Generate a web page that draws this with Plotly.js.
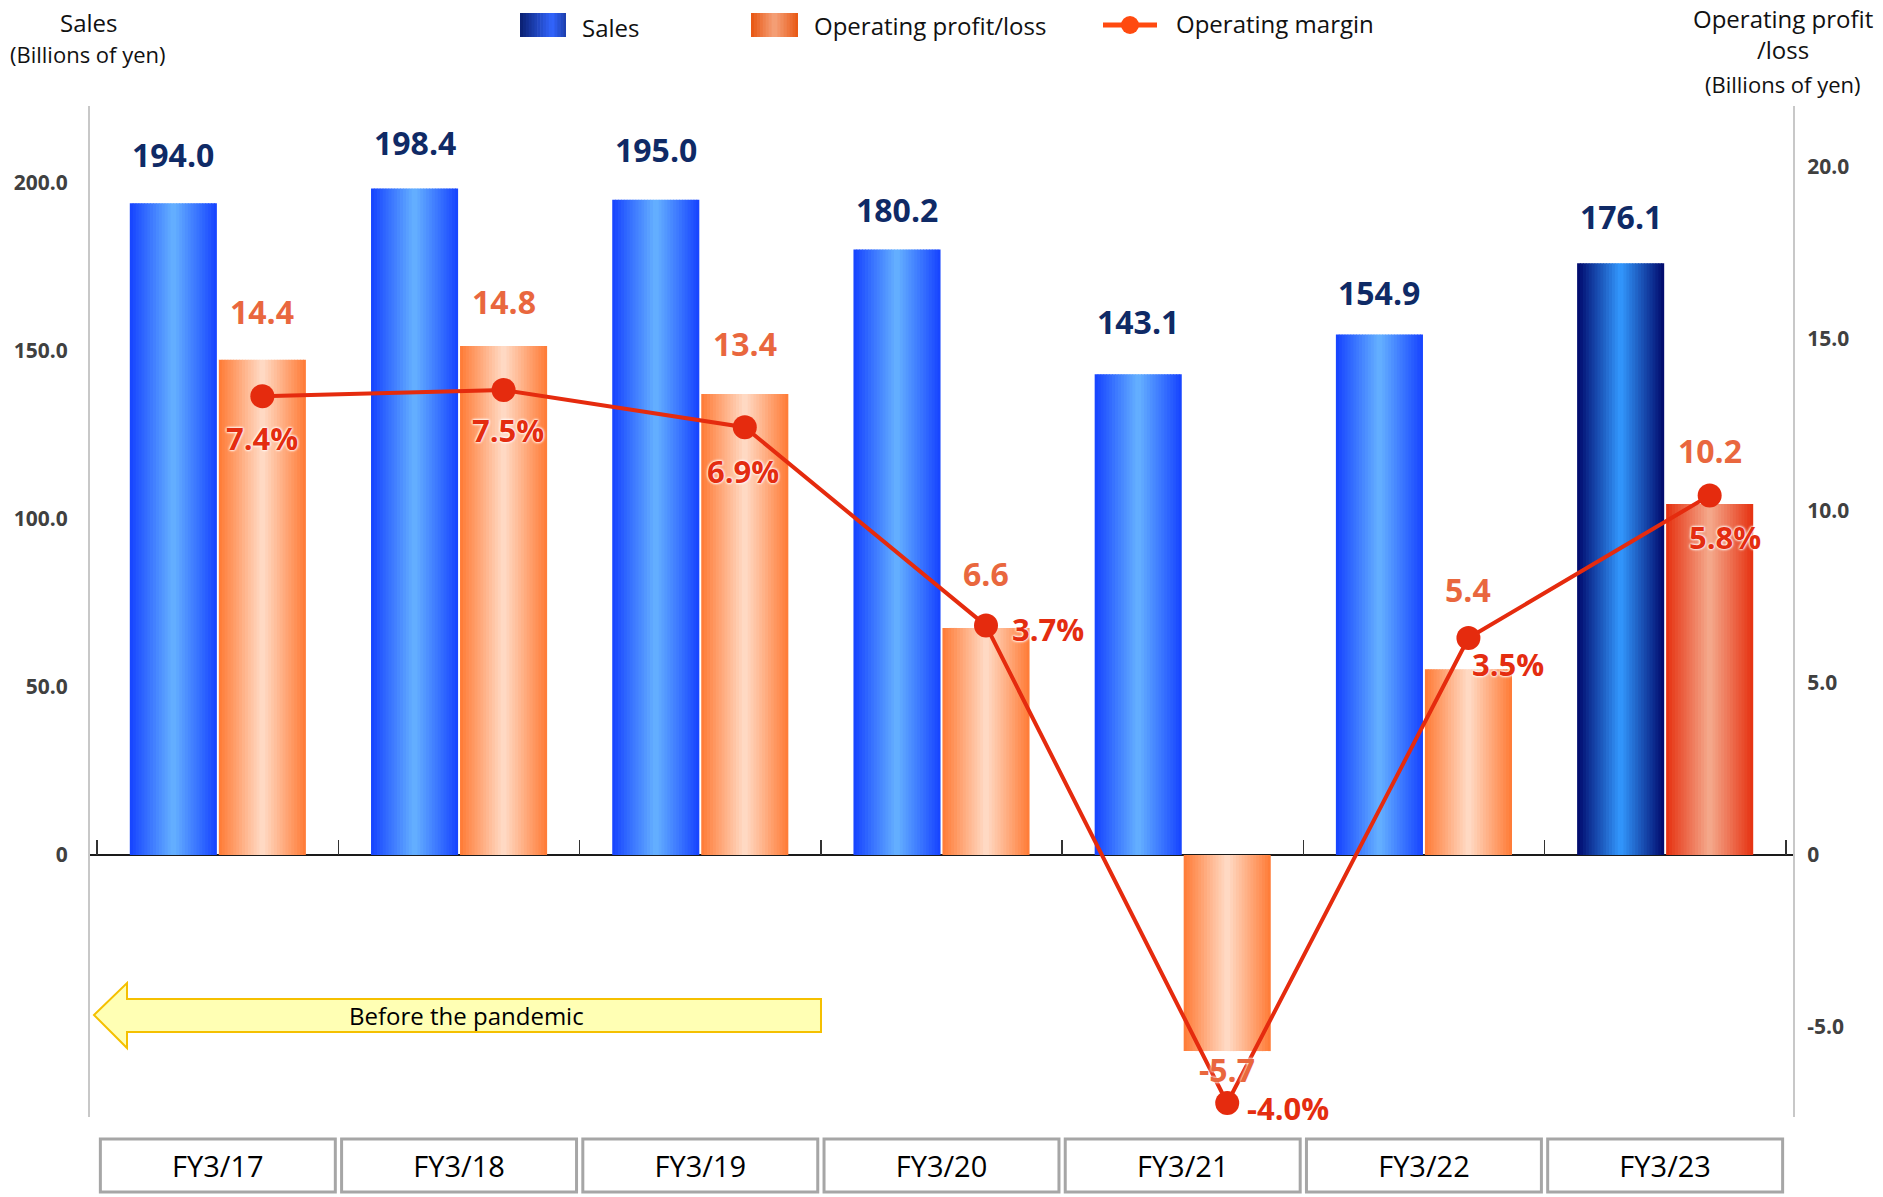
<!DOCTYPE html>
<html>
<head>
<meta charset="utf-8">
<script src="https://cdn.plot.ly/plotly-3.0.1.min.js"></script>
<style>
  html, body { margin: 0; padding: 0; background: #ffffff; }
  #chart { width: 1883px; height: 1197px; }
</style>
</head>
<body>
<div id="chart"></div>
<script>
// ---------------- DATA ----------------
const categories = ['FY3/17', 'FY3/18', 'FY3/19', 'FY3/20', 'FY3/21', 'FY3/22', 'FY3/23'];
const sales = [194.0, 198.4, 195.0, 180.2, 143.1, 154.9, 176.1];            // Billions of yen
const opProfit = [14.4, 14.8, 13.4, 6.6, -5.7, 5.4, 10.2];                  // Billions of yen
const opMargin = [7.4, 7.5, 6.9, 3.7, -4.0, 3.5, 5.8];                      // %
const salesTickVals = [0, 50, 100, 150, 200];
const salesTickText = ['0', '50.0', '100.0', '150.0', '200.0'];
const opTickVals = [-5, 0, 5, 10, 15, 20];
const opTickText = ['-5.0', '0', '5.0', '10.0', '15.0', '20.0'];

// ---------------- GEOMETRY / STYLE ----------------
const W = 1883, H = 1197;
const L = 90, R = 1793, T = 106, B = 1117, Z = 855;   // plot box and zero line (px)
const salesPx = 3.36, opPx = 34.4, marginPx = 62;     // px per unit
const salesRange = [-(B - Z) / salesPx, (Z - T) / salesPx];
const opRange = [-(B - Z) / opPx, (Z - T) / opPx];
const marginRange = [-(B - Z) / marginPx, (Z - T) / marginPx];
const zeroFrac = (B - Z) / (B - T);
const xRange = [-0.53, 6.53];
const barW = 0.361, gap = 0.008;
const salesOff = -barW - gap / 2, opOff = gap / 2;
const salesCenter = salesOff + barW / 2, opCenter = opOff + barW / 2;
const N = 30;
const FONT = 'Open Sans, Noto Sans, sans-serif';

// label pixel offsets (style only)
const salesLabelShift = [49, 46, 50, 40, 53, 42, 47];
const opLabelShift = [48, 44, 51, 54, -18, 80, 54];
const pctPos = [['center', 0, -42], ['center', 4, -40], ['center', -2, -44], ['left', 24, -3], ['left', 18, -5], ['left', 2, -26], ['center', 15, -42]];

const PX = x => (x - L) / (R - L);
const PY = y => (B - y) / (B - T);

function hex2rgb(h) { h = h.replace('#', ''); return [0, 2, 4].map(i => parseInt(h.substr(i, 2), 16)); }
function mix(a, b, f) {
  const A = hex2rgb(a), Bc = hex2rgb(b);
  const c = A.map((v, i) => Math.round(v + (Bc[i] - v) * f));
  return 'rgb(' + c.join(',') + ')';
}
const blueEdge = '#1542ff', blueCenter = '#66b2ff';
const navyEdge = '#00086a', navyCenter = '#3399ff';
const orangeEdge = '#ff7a34', orangeCenter = '#ffdcc8';
const redEdge = '#e5300f', redCenter = '#f4ab8e';
const lineColor = '#e52b0e';

// ---------------- TRACES ----------------
const traces = [];
const overlap = 0.8 / 241;
function profile(t) { return 1 - Math.abs(2 * t - 1); }
for (let i = 0; i < N; i++) {
  const f = profile((i + 0.5) / N);
  const w = barW / N + (i < N - 1 ? overlap : 0);
  traces.push({
    type: 'bar', name: 'Sales', x: categories, y: sales,
    xaxis: 'x', yaxis: 'y', width: w, offset: salesOff + i * barW / N,
    marker: { color: categories.map((c, k) => k === categories.length - 1 ? mix(navyEdge, navyCenter, f) : mix(blueEdge, blueCenter, f)), line: { width: 0 } },
    showlegend: false, hoverinfo: 'skip'
  });
}
for (let i = 0; i < N; i++) {
  const f = profile((i + 0.5) / N);
  const w = barW / N + (i < N - 1 ? overlap : 0);
  traces.push({
    type: 'bar', name: 'Operating profit/loss', x: categories, y: opProfit,
    xaxis: 'x', yaxis: 'y2', width: w, offset: opOff + i * barW / N,
    marker: { color: categories.map((c, k) => k === categories.length - 1 ? mix(redEdge, redCenter, f) : mix(orangeEdge, orangeCenter, f)), line: { width: 0 } },
    showlegend: false, hoverinfo: 'skip'
  });
}
traces.push({
  type: 'scatter', mode: 'lines+markers', name: 'Operating margin',
  x: categories, y: opMargin, xaxis: 'x2', yaxis: 'y3',
  line: { color: lineColor, width: 4 },
  marker: { color: lineColor, size: 24 },
  showlegend: false, hoverinfo: 'skip', cliponaxis: false
});

// ---------------- ANNOTATIONS ----------------
const annotations = [];
categories.forEach((c, i) => {
  annotations.push({
    xref: 'x3', yref: 'y', x: c, y: sales[i], text: sales[i].toFixed(1),
    showarrow: false, yanchor: 'middle', yshift: salesLabelShift[i],
    font: { family: FONT, size: 32, color: '#0f2a66', weight: 'bold' }
  });
  annotations.push({
    xref: 'x2', yref: 'y2', x: c, y: opProfit[i], text: opProfit[i].toFixed(1),
    showarrow: false, yanchor: 'middle', yshift: opLabelShift[i],
    font: { family: FONT, size: 32, color: '#e9673e', weight: 'bold', shadow: '0 0 3px #fff, 0 0 3px #fff' }
  });
});
categories.forEach((c, i) => {
  const p = pctPos[i];
  annotations.push({
    xref: 'x2', yref: 'y3', x: c, y: opMargin[i], text: opMargin[i].toFixed(1) + '%',
    showarrow: false, xanchor: p[0], yanchor: 'middle', xshift: p[1], yshift: p[2],
    font: { family: FONT, size: 31, color: '#e42d10', weight: 'bold', shadow: '0 0 3px #fff, 0 0 3px #fff, 0 0 2px #fff' }
  });
});
// axis titles
const titleFont = { family: FONT, size: 24, color: '#111' };
const smallFont = { family: FONT, size: 22, color: '#111' };
annotations.push({ xref: 'paper', yref: 'paper', x: PX(88), y: PY(22), text: 'Sales', showarrow: false, font: titleFont, xanchor: 'center', yanchor: 'middle' });
annotations.push({ xref: 'paper', yref: 'paper', x: PX(88), y: PY(54), text: '(Billions of yen)', showarrow: false, font: smallFont, xanchor: 'center', yanchor: 'middle' });
annotations.push({ xref: 'paper', yref: 'paper', x: PX(1783), y: PY(18), text: 'Operating profit', showarrow: false, font: titleFont, xanchor: 'center', yanchor: 'middle' });
annotations.push({ xref: 'paper', yref: 'paper', x: PX(1783), y: PY(50), text: '/loss', showarrow: false, font: titleFont, xanchor: 'center', yanchor: 'middle' });
annotations.push({ xref: 'paper', yref: 'paper', x: PX(1783), y: PY(84), text: '(Billions of yen)', showarrow: false, font: smallFont, xanchor: 'center', yanchor: 'middle' });
// legend texts
annotations.push({ xref: 'paper', yref: 'paper', x: PX(580), y: PY(27), text: 'Sales', showarrow: false, font: titleFont, xanchor: 'left', yanchor: 'middle' });
annotations.push({ xref: 'paper', yref: 'paper', x: PX(812), y: PY(25), text: 'Operating profit/loss', showarrow: false, font: titleFont, xanchor: 'left', yanchor: 'middle' });
annotations.push({ xref: 'paper', yref: 'paper', x: PX(1174), y: PY(23), text: 'Operating margin', showarrow: false, font: titleFont, xanchor: 'left', yanchor: 'middle' });
// arrow text
annotations.push({ xref: 'paper', yref: 'paper', x: PX(466), y: PY(1015), text: 'Before the pandemic', showarrow: false, font: { family: FONT, size: 24, color: '#000' }, xanchor: 'center', yanchor: 'middle' });

// ---------------- SHAPES ----------------
const shapes = [];
categories.forEach((c, i) => {
  shapes.push({ type: 'rect', xref: 'x', yref: 'paper', x0: i - 0.487, x1: i + 0.487, y0: PY(1139), y1: PY(1192), line: { color: '#a6a6a6', width: 3 }, fillcolor: 'rgba(0,0,0,0)' });
});
(function () {
  const pts = [[94, 1015], [127, 983], [127, 999], [821, 999], [821, 1032], [127, 1032], [127, 1048]];
  const d = 'M' + pts.map(p => PX(p[0]).toFixed(5) + ',' + PY(p[1]).toFixed(5)).join(' L') + ' Z';
  shapes.push({ type: 'path', xref: 'paper', yref: 'paper', path: d, fillcolor: '#ffffb4', line: { color: '#f5c000', width: 2 }, layer: 'above' });
})();
function swatch(x0, x1, y0, y1, colorAt) {
  const n = 16;
  for (let i = 0; i < n; i++) {
    const a = x0 + (x1 - x0) * i / n, b = x0 + (x1 - x0) * (i + 1) / n + (i < n - 1 ? 0.6 : 0);
    shapes.push({ type: 'rect', xref: 'paper', yref: 'paper', x0: PX(a), x1: PX(b), y0: PY(y1), y1: PY(y0), fillcolor: colorAt((i + 0.5) / n), line: { width: 0 }, layer: 'above' });
  }
}
swatch(520, 566, 13, 37, t => { const f = t < 0.7 ? t / 0.7 : 1 - (t - 0.7) / 0.3 * 0.6; return mix('#0a1f70', '#3366ff', f); });
swatch(751, 798, 13, 37, t => mix('#e85510', '#f5a37c', 1 - Math.abs(2 * t - 1)));
shapes.push({ type: 'line', xref: 'paper', yref: 'paper', x0: PX(1103), x1: PX(1157), y0: PY(25), y1: PY(25), line: { color: '#ff4a10', width: 5 }, layer: 'above' });
shapes.push({ type: 'circle', xref: 'paper', yref: 'paper', x0: PX(1121), x1: PX(1139), y0: PY(34), y1: PY(16), fillcolor: '#ff4a10', line: { width: 0 }, layer: 'above' });

// ---------------- LAYOUT ----------------
const catAxisBase = { type: 'category', categoryorder: 'array', categoryarray: categories };
const layout = {
  width: W, height: H,
  margin: { l: L, r: W - R, t: T, b: H - B, pad: 0 },
  paper_bgcolor: '#ffffff', plot_bgcolor: '#ffffff',
  font: { family: FONT, color: '#111' },
  barmode: 'overlay',
  showlegend: false,
  xaxis: Object.assign({}, catAxisBase, {
    range: xRange, anchor: 'free', position: zeroFrac,
    showline: false, showgrid: false, zeroline: false,
    ticks: 'inside', tickson: 'boundaries', ticklen: 15, tickwidth: 1.5, tickcolor: '#333',
    showticklabels: false, fixedrange: true
  }),
  xaxis2: Object.assign({}, catAxisBase, {
    overlaying: 'x', anchor: 'y3', range: [xRange[0] - opCenter, xRange[1] - opCenter], visible: false, fixedrange: true
  }),
  xaxis3: Object.assign({}, catAxisBase, {
    overlaying: 'x', anchor: 'y', range: [xRange[0] - salesCenter, xRange[1] - salesCenter], visible: false, fixedrange: true
  }),
  xaxis4: Object.assign({}, catAxisBase, {
    overlaying: 'x', anchor: 'free', position: 0, side: 'bottom', range: xRange,
    showline: false, showgrid: false, zeroline: false, ticks: '',
    tickfont: { family: FONT, size: 29, color: '#000' }, ticklabelstandoff: 30, fixedrange: true
  }),
  yaxis: {
    range: salesRange, anchor: 'x', showgrid: false,
    showline: true, linecolor: '#c8c8c8', linewidth: 2,
    zeroline: true, zerolinecolor: '#1a1a1a', zerolinewidth: 1.5,
    tickmode: 'array', tickvals: salesTickVals, ticktext: salesTickText, ticks: '',
    ticklabelstandoff: 16,
    tickfont: { family: FONT, size: 21, color: '#404040', weight: 'bold' }, fixedrange: true
  },
  yaxis2: {
    range: opRange, overlaying: 'y', side: 'right', anchor: 'x', showgrid: false,
    showline: true, linecolor: '#c8c8c8', linewidth: 2, zeroline: false,
    tickmode: 'array', tickvals: opTickVals, ticktext: opTickText, ticks: '',
    ticklabelstandoff: 8,
    tickfont: { family: FONT, size: 21, color: '#404040', weight: 'bold' }, fixedrange: true
  },
  yaxis3: { range: marginRange, overlaying: 'y', anchor: 'x2', visible: false, fixedrange: true },
  annotations: annotations,
  shapes: shapes
};

traces.push({ type: 'scatter', mode: 'markers', x: categories, y: sales.map(() => null), xaxis: 'x4', yaxis: 'y', showlegend: false, hoverinfo: 'skip', name: 'labels' });

Plotly.newPlot('chart', traces, layout, { displayModeBar: false, staticPlot: true });
</script>
</body>
</html>
